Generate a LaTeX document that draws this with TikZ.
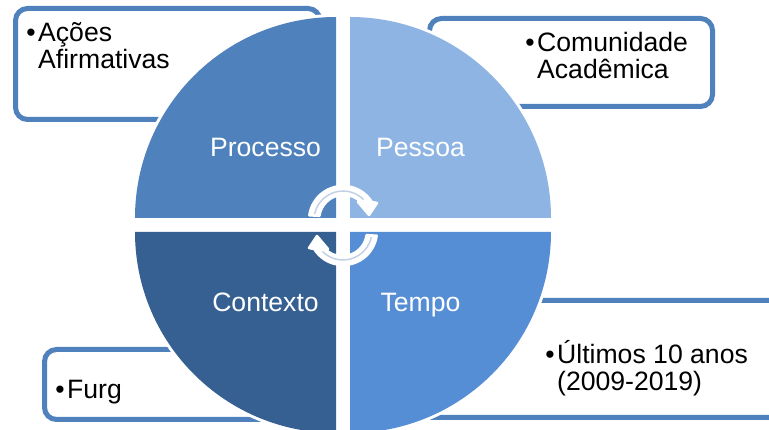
\documentclass[tikz,border=0pt]{standalone}
\usepackage{fontspec}
\setmainfont{Liberation Sans}
\definecolor{boxline}{HTML}{4F81BD}
\definecolor{pessC}{HTML}{8EB4E3}
\definecolor{tempC}{HTML}{558ED5}
\definecolor{contC}{HTML}{376092}
\definecolor{arcline}{HTML}{C3D1E6}
\tikzset{
  notebox/.style={draw=boxline,line width=5pt,fill=white,rounded corners=12pt},
  quadlabel/.style={text=white,font=\fontsize{26.6}{28}\selectfont,inner sep=0pt,anchor=base},
  notetext/.style={text=black,font=\fontsize{26.6}{27}\selectfont,align=left,inner sep=0pt,anchor=west},
  whitearc/.style={fill=white,draw=white,line width=2.5pt,line join=round},
  arcmark/.style={draw=arcline,line width=1.5pt}
}
\newcommand{\bul}{\llap{•\hspace{2.5pt}}}
\newcommand{\quadrant}[4]{%
  \fill[white] (#2,#3) -- +(#4:204) arc[start angle=#4,delta angle=90,radius=204] -- cycle;
  \fill[#1] (#2,#3) -- +(#4:201) arc[start angle=#4,delta angle=90,radius=201] -- cycle;
}
\newcommand{\roundarrow}{%
  \path[whitearc] (172:34) arc[start angle=172,end angle=32,radius=34]
     -- (34,17) -- (26,5) -- (15,18) -- (18,18)
     arc[start angle=45,end angle=172,radius=24.5] -- cycle;
  \path[arcmark] (168:29) arc[start angle=168,end angle=45,radius=29];
}
\begin{document}
\begin{tikzpicture}[x=1pt,y=-1pt]
\useasboundingbox (0,0) rectangle (769,430);
\clip (0,0) rectangle (769,430);
\fill[white] (0,0) rectangle (769,430);
% note boxes
\path[notebox] (15.5,8.5) rectangle (320,119.5);
\path[notebox] (429.5,18.5) rectangle (712.5,106.5);
\path[notebox] (420,300.5) rectangle (785,417.5);
\path[notebox] (44.5,349.5) rectangle (320,419.5);
% quadrants
\quadrant{boxline}{336}{218}{180}
\quadrant{pessC}{350}{218}{270}
\quadrant{tempC}{350}{232}{0}
\quadrant{contC}{336}{232}{90}
% cycle arrows
\begin{scope}[shift={(343,220)},x=1pt,y=1pt]
  \roundarrow
\end{scope}
\begin{scope}[shift={(343,231)},x=1pt,y=1pt,xscale=-1,yscale=-1]
  \roundarrow
\end{scope}
% labels
\node[quadlabel] (processo) at (265.5,157) {Processo};
\node[quadlabel] (pessoa) at (420.5,157) {Pessoa};
\node[quadlabel] (contexto) at (265.5,312) {Contexto};
\node[quadlabel] (tempo) at (420.5,312) {Tempo};
\node[notetext] (acoes) at (38,46) {\bul Ações\\Afirmativas};
\node[notetext] (comunidade) at (537,55.5) {\bul Comunidade\\Acadêmica};
\node[notetext] (ultimos) at (557,368) {\bul Últimos 10 anos\\(2009-2019)};
\node[notetext] (furg) at (67,392) {\bul Furg};
\end{tikzpicture}
\end{document}
